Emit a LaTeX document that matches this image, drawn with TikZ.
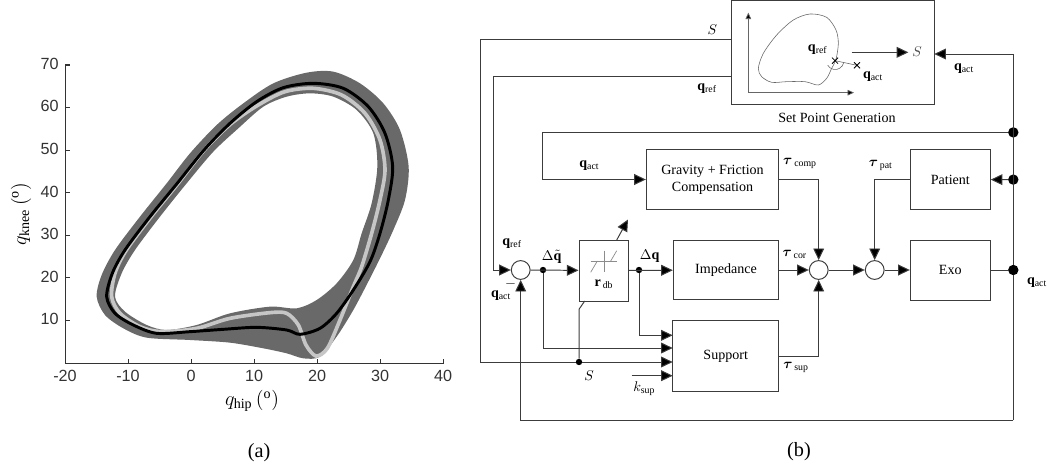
\documentclass[tikz,border=0pt]{standalone}
\usepackage{amsmath}
\usepackage{fontspec}
\setmainfont{Liberation Serif}
\newfontfamily\axisfont{Liberation Sans}
\usetikzlibrary{arrows.meta}
\definecolor{wirecol}{HTML}{3C3C3C}
\definecolor{bandcol}{HTML}{696969}
\definecolor{lightcol}{HTML}{C6C6C6}
\definecolor{axiscol}{HTML}{333333}

\begin{document}
\begin{tikzpicture}[
x=0.025cm, y=-0.025cm,
block/.style={rectangle, draw=wirecol, line width=0.7pt, fill=white, align=center, font=\normalsize},
sumnode/.style={circle, draw=wirecol, line width=0.7pt, fill=white, minimum size=4.7mm, inner sep=0pt},
bigdot/.style={circle, fill=black, minimum size=2.6mm, inner sep=0pt},
smalldot/.style={circle, fill=black, minimum size=1.6mm, inner sep=0pt},
wire/.style={draw=wirecol, line width=0.7pt},
flow/.style={wire, -{Triangle[length=2.9mm,width=2.7mm,fill=black]}},
thinflow/.style={draw=black!60, line width=0.5pt, -{Triangle[length=1.6mm,width=1.4mm,fill=black]}},
lab/.style={font=\normalsize, inner sep=0pt},
ticklab/.style={font=\axisfont\fontsize{11.5}{12}\selectfont, text=axiscol, inner sep=0pt}
]
\useasboundingbox (0,0) rectangle (1051,472);

% left plot
\begin{scope}[shift={(0,40)}, scale=1/3]
\fill[bandcol, even odd rule]
  plot[smooth cycle] coordinates {(290,770) (305,705) (345,630) (420,530) (500,430) (570,340) (650,255) (730,190) (820,130) (920,98) (1000,95) (1080,130) (1150,190) (1200,270) (1226,380) (1215,480) (1180,570) (1145,645) (1110,715) (1060,810) (1010,890) (960,950) (910,955) (860,940) (790,925) (690,908) (570,900) (440,893) (370,865) (315,825)}
  plot[smooth cycle] coordinates {(345,770) (365,700) (405,630) (480,530) (560,430) (640,335) (715,265) (790,200) (860,170) (930,160) (1000,170) (1070,210) (1120,280) (1132,380) (1115,490) (1085,580) (1060,660) (1010,730) (950,780) (890,805) (810,800) (690,820) (590,855) (500,870) (440,855) (375,815)};
\draw[lightcol, line width=2.6pt]
  plot[smooth cycle] coordinates {(335,770) (345,700) (378,632) (452,532) (532,433) (613,330) (692,252) (775,195) (855,155) (940,145) (1025,165) (1095,220) (1140,300) (1155,390) (1140,480) (1115,580) (1085,680) (1060,740) (1020,840) (982,925) (948,948) (918,915) (895,855) (860,820) (810,818) (690,835) (590,865) (485,875) (420,860) (360,820)};
\draw[black, line width=2.1pt]
  plot[smooth cycle] coordinates {(320,770) (337,700) (375,630) (450,530) (530,432) (612,330) (690,250) (770,185) (850,143) (940,130) (1030,145) (1105,200) (1155,280) (1178,380) (1165,480) (1140,580) (1110,665) (1060,750) (1010,820) (960,865) (900,883) (860,870) (770,862) (670,868) (570,875) (470,880) (400,855) (345,820)};
\end{scope}
\draw[axiscol, line width=0.7pt] (69.5,65) -- (65,65) -- (65,363) -- (443,363) -- (443,359);
\foreach \val/\xpos in {-20/65,-10/128,0/191,10/254,20/317,30/380,40/443} {
  \draw[axiscol, line width=0.7pt] (\xpos,363) -- (\xpos,359);
  \node[ticklab] (xt\xpos) at (\xpos,376) {\val};
}
\foreach \val/\ypos in {10/320.4,20/277.8,30/235.2,40/192.6,50/150,60/107.4,70/64.8} {
  \draw[axiscol, line width=0.7pt] (65,\ypos) -- (69.5,\ypos);
  \node[ticklab, anchor=east] (yt\val) at (59,\ypos-1) {\val};
}
\node[font=\Large, inner sep=0pt] (xlabel) at (252,401) {$q_{\mathrm{hip}}\,(^{\mathrm{o}})$};
\node[font=\Large, inner sep=0pt, rotate=90] (ylabel) at (21,214) {$q_{\mathrm{knee}}\,(^{\mathrm{o}})$};
\node[font=\Large, inner sep=0pt] (capa) at (259,453) {(a)};
\node[font=\Large, inner sep=0pt] (capb) at (799,452) {(b)};

% blocks
\node[block, minimum width=50.75mm, minimum height=26mm] (setpoint) at (832.8,52.4) {};
\node[block, minimum width=33.1mm, minimum height=14.9mm] (gravity) at (712.5,179.5) {Gravity + Friction\\Compensation};
\node[block, minimum width=20mm, minimum height=14.9mm] (patient) at (950.3,179.7) {Patient};
\node[block, minimum width=26.35mm, minimum height=14.9mm] (impedance) at (726,270) {Impedance};
\node[block, minimum width=26.5mm, minimum height=17.85mm] (support) at (725.7,356) {Support};
\node[block, minimum width=20mm, minimum height=15mm] (exo) at (950.3,270) {Exo};
\node[block, minimum width=12.4mm, minimum height=15.25mm] (deadband) at (603.8,270.5) {};
\node[sumnode] (sumerr) at (520.7,270) {};
\node[sumnode] (sumtau) at (818.7,270) {};
\node[sumnode] (sumpat) at (874.7,270) {};
\node[bigdot] (jgrav) at (1013.3,132.4) {};
\node[bigdot] (jpat) at (1013.3,179.6) {};
\node[bigdot] (jexo) at (1013.3,270) {};
\node[smalldot] (jerr) at (543,270) {};
\node[smalldot] (jdq) at (639,270) {};
\node[smalldot] (jsw) at (579,362) {};

% free ends
\coordinate (spS) at (731.3,39);
\coordinate (spref) at (731.3,76.3);
\coordinate (spact) at (934.3,54);
\coordinate (cornerS) at (480,39);
\coordinate (cornerref) at (493.3,76.3);
\coordinate (cornergrav) at (542.7,132.4);
\coordinate (supa) at (672.7,335.3);
\coordinate (supb) at (672.7,348);
\coordinate (supc) at (672.7,362);
\coordinate (supd) at (672.7,375.7);
\coordinate (ksup) at (631.7,375.7);
\coordinate (fbcorner) at (1013.3,420);
\coordinate (swup) at (579,309.3);
\coordinate (swdb) at (584.7,301);
\coordinate (dbfrom) at (616.7,240);
\coordinate (dbto) at (628,219.5);

% connectors
\draw[wire] (spS) -- (cornerS) |- (jsw);
\draw[flow] (jsw) -- (supc);
\draw[flow] (spref) -- (cornerref) |- (sumerr);
\draw[flow] (jexo) |- (spact);
\draw[flow] (jgrav) -- (cornergrav) |- (gravity);
\draw[flow] (jpat) -- (patient);
\draw[wire] (jexo) -- (fbcorner);
\draw[flow] (fbcorner) -| (sumerr);
\draw[flow] (sumerr) -- (deadband);
\draw[flow] (deadband) -- (impedance);
\draw[flow] (jerr) |- (supb);
\draw[flow] (jdq) |- (supa);
\draw[flow] (ksup) -- (supd);
\draw[wire] (jsw) -- (swup) -- (swdb);
\draw[flow] (dbfrom) -- (dbto);
\draw[flow] (impedance) -- (sumtau);
\draw[flow] (gravity.east) -| (sumtau);
\draw[flow] (support.east) -| (sumtau);
\draw[flow] (sumtau) -- (sumpat);
\draw[flow] (patient.west) -| (sumpat);
\draw[flow] (sumpat) -- (exo);
\draw[wire] (exo) -- (jexo);

% dead band symbol
\draw[black!45, line width=0.5pt] (590.7,261) -- (616.7,261) (604.3,250.7) -- (604.3,271.7);
\draw[black!45, line width=0.5pt] (590.7,272.3) -- (597.3,261) (610.7,261) -- (616.7,250.7);

% inset
\begin{scope}[shift={(730,0)}, scale=1/3]
\draw[black!60, line width=0.4pt] plot[smooth cycle] coordinates {(85,205) (100,160) (140,105) (190,60) (240,42) (290,52) (318,90) (325,130) (318,178) (305,205) (290,235) (265,255) (225,245) (170,245) (125,247) (95,230)};
\draw[thinflow] (55,278) -- (55,38);
\draw[thinflow] (55,278) -- (372,278);
\draw[black!60, line width=0.4pt] (315,182) -- (381,196);
\draw[black!60, line width=0.4pt] (341,188) arc[start angle=12, end angle=150, radius=26, y=-1];
\draw[black, line width=0.6pt] (306,173) -- (324,191) (306,191) -- (324,173);
\draw[black, line width=0.6pt] (372,187) -- (390,205) (372,205) -- (390,187);
\draw[flow] (365,157) -- (535,157);
\end{scope}

% labels
\node[lab] (lqrefin) at (817.7,50) {$\mathbf{q}_{\mathrm{ref}}$};
\node[lab] (lqactin) at (873,77) {$\mathbf{q}_{\mathrm{act}}$};
\node[lab, text=black!70] (lSin) at (917,52) {$S$};
\node[lab] (lsetpoint) at (837,117.7) {Set Point Generation};
\node[lab] (lStop) at (712.3,30) {$S$};
\node[lab] (lqreftop) at (707,89) {$\mathbf{q}_{\mathrm{ref}}$};
\node[lab] (lqactgrav) at (589.3,166) {$\mathbf{q}_{\mathrm{act}}$};
\node[lab] (lqactset) at (964,69) {$\mathbf{q}_{\mathrm{act}}$};
\node[lab] (ltaucomp) at (800,163.7) {$\boldsymbol{\tau}_{\,\mathrm{comp}}$};
\node[lab] (ltaupat) at (880.7,165) {$\boldsymbol{\tau}_{\,\mathrm{pat}}$};
\node[lab] (lqrefsum) at (512,244) {$\mathbf{q}_{\mathrm{ref}}$};
\node[lab] (lminus) at (510.7,284) {$-$};
\node[lab] (lqactsum) at (501,295.7) {$\mathbf{q}_{\mathrm{act}}$};
\node[lab] (ldqt) at (551.7,256.5) {$\Delta\tilde{\mathbf{q}}$};
\node[lab] (ldq) at (649.7,256.5) {$\Delta\mathbf{q}$};
\node[lab] (lrdb) at (604,284.5) {$\mathbf{r}_{\,\mathrm{db}}$};
\node[lab] (ltaucor) at (794.7,254) {$\boldsymbol{\tau}_{\,\mathrm{cor}}$};
\node[lab] (ltausup) at (796,367) {$\boldsymbol{\tau}_{\,\mathrm{sup}}$};
\node[lab] (lqactexo) at (1037,282.3) {$\mathbf{q}_{\mathrm{act}}$};
\node[lab] (lSbot) at (589,375.7) {$S$};
\node[lab] (lksup) at (644.3,388.3) {$k_{\mathrm{sup}}$};
\end{tikzpicture}
\end{document}
